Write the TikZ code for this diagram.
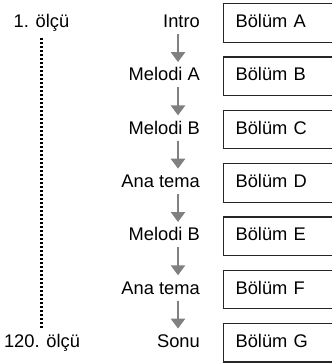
\documentclass[tikz,border=0pt]{standalone}
\usepackage{fontspec}
\setmainfont{Liberation Sans}
\usetikzlibrary{arrows.meta, positioning}

\begin{document}
\begin{tikzpicture}[
  x=1pt, y=-1pt,
  font=\fontsize{18.3}{21}\selectfont,
  bolum/.style={draw=black!85, line width=1.2pt, minimum width=110pt, minimum height=38.5pt, text width=86pt, inner xsep=12pt, align=left, text height=13pt, text depth=4pt},
  parca/.style={inner sep=0pt, text height=13pt, text depth=4pt, minimum height=22pt},
  akis/.style={draw=black!50, line width=2.6pt, -{Triangle[width=14pt, length=10pt]}, shorten >=3pt},
  olcu/.style={draw=black, line width=2.5pt, dash pattern=on 2.2pt off 1.8pt, shorten <=4pt, shorten >=4pt}
]
  \useasboundingbox (0,0) rectangle (331,363);
  % bolumler
  \node[bolum, anchor=west] (bA) at (223,23) {Bölüm A};
  \node[bolum, below=13.6pt of bA] (bB) {Bölüm B};
  \node[bolum, below=13.6pt of bB] (bC) {Bölüm C};
  \node[bolum, below=13.6pt of bC] (bD) {Bölüm D};
  \node[bolum, below=13.6pt of bD] (bE) {Bölüm E};
  \node[bolum, below=13.6pt of bE] (bF) {Bölüm F};
  \node[bolum, below=13.6pt of bF] (bG) {Bölüm G};
  % parcalar
  \node[parca, left=23pt of bA] (pA) {Intro};
  \node[parca, left=23pt of bB] (pB) {Melodi A};
  \node[parca, left=23pt of bC] (pC) {Melodi B};
  \node[parca, left=23pt of bD] (pD) {Ana tema};
  \node[parca, left=23pt of bE] (pE) {Melodi B};
  \node[parca, left=23pt of bF] (pF) {Ana tema};
  \node[parca, left=23pt of bG] (pG) {Sonu};
  \coordinate (ax) at (178,0);
  \draw[akis] (pA.south -| ax) -- (pB.north -| ax);
  \draw[akis] (pB.south -| ax) -- (pC.north -| ax);
  \draw[akis] (pC.south -| ax) -- (pD.north -| ax);
  \draw[akis] (pD.south -| ax) -- (pE.north -| ax);
  \draw[akis] (pE.south -| ax) -- (pF.north -| ax);
  \draw[akis] (pF.south -| ax) -- (pG.north -| ax);
  % olcu
  \node[parca] (m1) at (41.5,23) {1. ölçü};
  \node[parca] (m120) at (42,343) {120. ölçü};
  \draw[olcu] (m1.south) -- (m1.south |- m120.north);
\end{tikzpicture}
\end{document}
